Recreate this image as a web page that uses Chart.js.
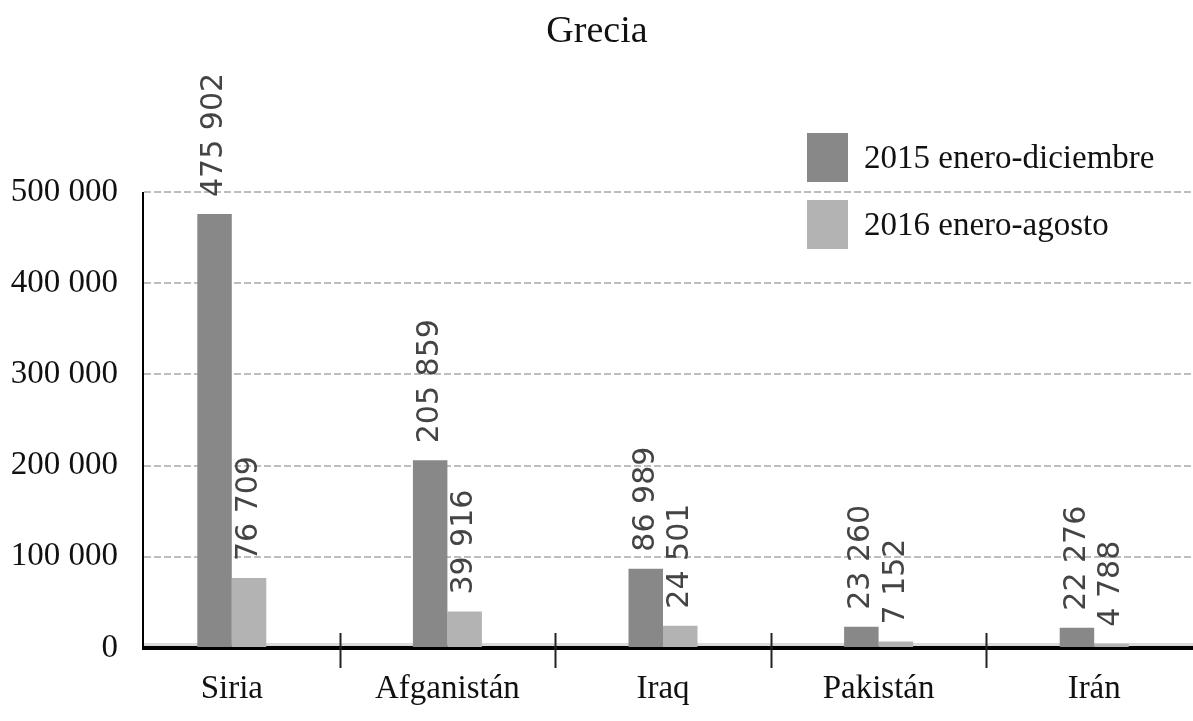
<!DOCTYPE html>
<html lang="es">
<head>
<meta charset="utf-8">
<title>Grecia</title>
<script src="https://cdn.jsdelivr.net/npm/chart.js@4.4.1/dist/chart.umd.min.js"></script>
<style>
  html, body { margin: 0; padding: 0; background: #fff; overflow: hidden; }
  #wrap { position: relative; width: 1210px; height: 721px; }
</style>
</head>
<body>
<div id="wrap"><canvas id="chart"></canvas></div>
<script>
// Grecia - llegadas por país de origen

const countries = ['Siria', 'Afganistán', 'Iraq', 'Pakistán', 'Irán'];
const seriesNames = ['2015 enero-diciembre', '2016 enero-agosto'];
const arrivals2015 = [475902, 205859, 86989, 23260, 22276];
const arrivals2016 = [76709, 39916, 24501, 7152, 4788];
const yTicks = [0, 100000, 200000, 300000, 400000, 500000];
const chartTitle = 'Grecia';

const serif = '"Liberation Serif", "DejaVu Serif", serif';
const darkGrey = '#888888';
const lightGrey = '#b3b3b3';
const axisX = 143; // the vertical axis sits a little inside the first category

// 475902 -> "475 902"
function fmt(n) {
    return String(n).replace(/\B(?=(\d{3})+(?!\d))/g, ' ');
}

// title, legend, value labels, y axis line and the category tick marks
const decorations = {
    id: 'decorations',
    beforeDatasetsDraw(chart) {
        // pale band sitting just above the base line
        const ctx = chart.ctx;
        const area = chart.chartArea;
        ctx.save();
        ctx.fillStyle = '#dadada';
        ctx.fillRect(axisX, area.bottom - 5, area.right - axisX, 3);
        ctx.restore();
    },
    afterDatasetsDraw(chart) {
        const ctx = chart.ctx;
        ctx.save();
        ctx.font = '30px "DejaVu Sans", sans-serif';
        ctx.fillStyle = '#444';
        ctx.textAlign = 'left';
        ctx.textBaseline = 'middle';
        chart.data.datasets.forEach((ds, di) => {
            chart.getDatasetMeta(di).data.forEach((bar, i) => {
                ctx.save();
                ctx.translate(bar.x, bar.y - 17);
                ctx.rotate(-Math.PI / 2);
                ctx.fillText(fmt(ds.data[i]), 0, 0);
                ctx.restore();
            });
        });
        ctx.restore();
    },
    afterDraw(chart) {
        const ctx = chart.ctx;
        const area = chart.chartArea;
        const x = chart.scales.x;

        // blank the strip left of the vertical axis, then draw the axis
        ctx.save();
        ctx.fillStyle = '#fff';
        ctx.fillRect(area.left - 4, area.top - 3, axisX - area.left + 3, area.bottom - area.top + 6);
        ctx.strokeStyle = '#000';
        ctx.lineWidth = 2;
        ctx.beginPath();
        ctx.moveTo(axisX, area.top);
        ctx.lineTo(axisX, area.bottom + 2);
        ctx.stroke();
        ctx.restore();

        // ticks between categories, crossing the axis line
        ctx.save();
        ctx.strokeStyle = '#222';
        ctx.lineWidth = 2;
        for (let i = 1; i < countries.length; i++) {
            const px = Math.round((x.getPixelForValue(i - 1) + x.getPixelForValue(i)) / 2) + 0.5;
            ctx.beginPath();
            ctx.moveTo(px, area.bottom - 15);
            ctx.lineTo(px, area.bottom + 20);
            ctx.stroke();
        }
        ctx.restore();

        // title
        ctx.save();
        ctx.font = '38px ' + serif;
        ctx.fillStyle = '#111';
        ctx.textAlign = 'center';
        ctx.textBaseline = 'middle';
        ctx.fillText(chartTitle, 597, 32);
        ctx.restore();

        // legend
        ctx.save();
        ctx.font = '33px ' + serif;
        ctx.textAlign = 'left';
        ctx.textBaseline = 'middle';
        chart.data.datasets.forEach((ds, di) => {
            const top = 133 + di * 67;
            ctx.fillStyle = ds.backgroundColor;
            ctx.fillRect(807, top, 41, 49);
            ctx.fillStyle = '#111';
            ctx.fillText(ds.label, 864, top + 26);
        });
        ctx.restore();
    }
};

new Chart(document.getElementById('chart'), {
    type: 'bar',
    data: {
        labels: countries,
        datasets: [
            {
                label: seriesNames[0],
                data: arrivals2015,
                backgroundColor: darkGrey,
                categoryPercentage: 0.32,
                barPercentage: 1.0
            },
            {
                label: seriesNames[1],
                data: arrivals2016,
                backgroundColor: lightGrey,
                categoryPercentage: 0.32,
                barPercentage: 1.0
            }
        ]
    },
    options: {
        responsive: true,
        maintainAspectRatio: false,
        animation: false,
        layout: {
            padding: { top: 192, left: 0, right: 8, bottom: 0 }
        },
        plugins: {
            legend: { display: false },
            title: { display: false },
            tooltip: { enabled: false }
        },
        scales: {
            x: {
                grid: { display: true, drawOnChartArea: false, drawTicks: false },
                border: { display: true, color: '#000', width: 4 },
                ticks: {
                    padding: 22,
                    color: '#111',
                    font: { family: serif, size: 33 }
                },
                afterFit(scale) { scale.height = 73; }
            },
            y: {
                min: 0,
                max: 500000,
                afterBuildTicks(scale) {
                    scale.ticks = yTicks.map(v => ({ value: v }));
                },
                grid: {
                    color: '#bdbdbd',
                    lineWidth: 2,
                    drawTicks: false
                },
                border: { display: false, dash: [7, 3] },
                ticks: {
                    padding: 6,
                    color: '#111',
                    font: { family: serif, size: 33 },
                    callback: v => fmt(v)
                },
                afterFit(scale) { scale.width = 124; }
            }
        }
    },
    plugins: [decorations]
});
</script>
</body>
</html>
